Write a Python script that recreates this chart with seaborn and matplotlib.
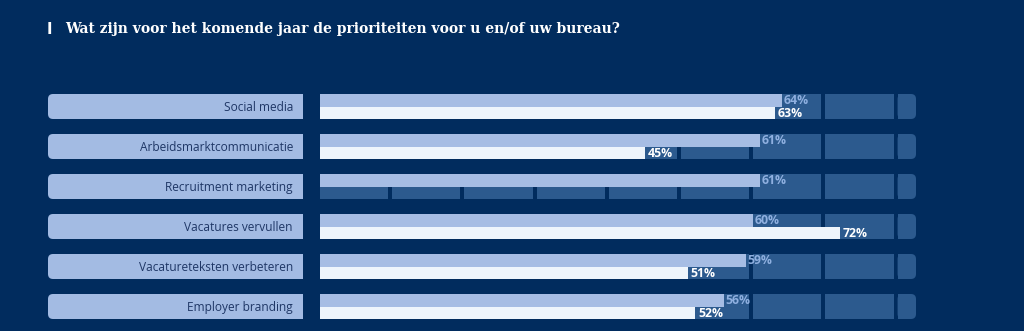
import numpy as np
import pandas as pd
import matplotlib
matplotlib.use("Agg")
import matplotlib.pyplot as plt
from matplotlib.patches import FancyBboxPatch, Rectangle
import seaborn as sns

# ---- data ----
categories = ["Social media", "Arbeidsmarktcommunicatie", "Recruitment marketing",
              "Vacatures vervullen", "Vacatureteksten verbeteren", "Employer branding"]
series_names = ["Reeks 1", "Reeks 2"]
values_1 = [64, 61, 61, 60, 59, 56]
values_2 = [63, 45, np.nan, 72, 51, 52]
title = "Wat zijn voor het komende jaar de prioriteiten voor u en/of uw bureau?"

# ---- style ----
BG = "#012c5e"
PILL = "#a3bbe3"
LIGHT = "#a6bde4"
WHITE = "#eef5fc"
TRACK = "#2c5a8e"
LABEL = "#1f3766"
PCT1 = "#8fb0e0"

W, H = 1024, 331
DPI = 100
sns.set_theme(style="white")
plt.rcParams["font.family"] = ["Open Sans", "DejaVu Sans"]

fig = plt.figure(figsize=(W / DPI, H / DPI), dpi=DPI, facecolor=BG)
ax = fig.add_axes([0, 0, 1, 1])
ax.set_facecolor(BG)

PX = 7.22       # px per percent
ROWPX = 40.0    # px per row
X0 = 320.0      # pixel of 0%
Y0 = 106.5      # pixel (from top) of first row centre

df = pd.DataFrame({
    "categorie": categories * 2,
    "waarde": list(values_1) + list(values_2),
    "reeks": [series_names[0]] * len(categories) + [series_names[1]] * len(categories),
})

bar_h = 25 / ROWPX  # full group height in row units

sns.barplot(data=df, y="categorie", x="waarde", hue="reeks", order=categories,
            hue_order=series_names, orient="h", width=bar_h, dodge=True,
            palette=[LIGHT, WHITE], saturation=1, linewidth=0, legend=False,
            ax=ax, zorder=2)

xmin = -X0 / PX
xmax = (W - X0) / PX
ax.set_xlim(xmin, xmax)
ax.set_ylim((H - Y0) / ROWPX, -Y0 / ROWPX)
ax.set_axis_off()

aspect = (1 / ROWPX) / (1 / PX)
r_x = 5 / PX
gap = 4 / PX
half = bar_h / 2
for i, cat in enumerate(categories):
    y_top = i - half
    # track segments
    for k in range(8):
        ax.add_patch(Rectangle((k * 10, y_top), 10 - gap, bar_h, color=TRACK, lw=0, zorder=0.5))
    end = (916 - X0) / PX
    ax.add_patch(FancyBboxPatch((80, y_top), end - 80, bar_h,
                                boxstyle=f"round,pad=0,rounding_size={r_x}",
                                mutation_aspect=aspect, fc=TRACK, ec="none", lw=0, zorder=0.5))
    ax.add_patch(Rectangle((80, y_top), 1.5, bar_h, color=TRACK, lw=0, zorder=0.6))
    # label pill
    p0 = (48 - X0) / PX
    p1 = (303 - X0) / PX
    ax.add_patch(FancyBboxPatch((p0, y_top), p1 - p0, bar_h,
                                boxstyle=f"round,pad=0,rounding_size={r_x}",
                                mutation_aspect=aspect, fc=PILL, ec="none", lw=0, zorder=1))
    ax.add_patch(Rectangle(((p0 + p1) / 2, y_top), p1 - (p0 + p1) / 2, bar_h,
                           color=PILL, lw=0, zorder=1.1))
    ax.text((293 - X0) / PX, i + 0.02, cat, ha="right", va="center", fontsize=8.6,
            color=LABEL, zorder=3)
    # value labels
    v1 = values_1[i]
    ax.text(v1 + 0.15, i - half / 2 + 0.0, f"{v1:.0f}%", ha="left", va="center",
            fontsize=8.8, fontweight="bold", color=PCT1, zorder=3)
    v2 = values_2[i]
    if not np.isnan(v2):
        ax.text(v2 + 0.35, i + half / 2 + 0.02, f"{v2:.0f}%", ha="left", va="center",
                fontsize=8.8, fontweight="bold", color="white", zorder=3)

fig.text(47 / W, 1 - 29.5 / H, "I", ha="left", va="center", fontsize=10.5,
         fontweight="heavy", color="white", family=["DejaVu Sans"])
fig.text(65 / W, 1 - 29.5 / H, title, ha="left", va="center", fontsize=10,
         fontweight="heavy", color="white", family=["DejaVu Serif"])

fig.savefig("out.png", dpi=DPI, facecolor=BG)
